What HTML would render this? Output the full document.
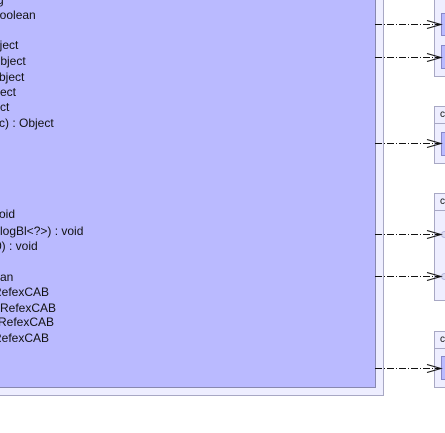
<!DOCTYPE html>
<html><head><style>
body{margin:0;width:445px;height:433px;background:#fff;position:relative;overflow:hidden;font-family:"Liberation Sans",sans-serif;font-size:12px;color:#111}
.a{position:absolute}
.t{position:absolute;white-space:nowrap;line-height:14px}
</style></head><body>
<div class="a" style="left:-5px;top:-5px;width:389px;height:401px;background:#eeeeff;border:1px solid #a8a8c4;box-sizing:border-box"></div>
<div class="a" style="left:-5px;top:-5px;width:381px;height:393px;background:#babaff;border:1px solid #8888b0;box-sizing:border-box"></div>

<div class="t" style="left:-3px;top:-7px">g</div>
<div class="t" style="left:-7px;top:8px">boolean</div>
<div class="t" style="left:-7px;top:38px">bject</div>
<div class="t" style="left:-9px;top:54px">Object</div>
<div class="t" style="left:-1px;top:70px">bject</div>
<div class="t" style="left:0px;top:85px">ect</div>
<div class="t" style="left:0px;top:100px">ct</div>
<div class="t" style="left:-1px;top:116px">c) : Object</div>
<div class="t" style="left:-7px;top:207px">void</div>
<div class="t" style="left:0px;top:224px">logBl&lt;?&gt;) : void</div>
<div class="t" style="left:-5px;top:239px">0) : void</div>
<div class="t" style="left:0px;top:270px">an</div>
<div class="t" style="left:-7px;top:285px">RefexCAB</div>
<div class="t" style="left:0px;top:301px">RefexCAB</div>
<div class="t" style="left:-2px;top:315px">RefexCAB</div>
<div class="t" style="left:-7px;top:331px">RefexCAB</div>

<div class="a" style="left:434px;top:-5px;width:20px;height:82px;background:#eeeeff;border:1px solid #a8a8c4;box-sizing:border-box"></div>
<div class="a" style="left:441px;top:13px;width:10px;height:23px;background:#babaff;border:1px solid #8888c8;box-sizing:border-box"></div>
<div class="a" style="left:441px;top:45px;width:10px;height:24px;background:#babaff;border:1px solid #8888c8;box-sizing:border-box"></div>

<div class="a" style="left:434px;top:106px;width:20px;height:58px;background:#eeeeff;border:1px solid #a8a8c4;box-sizing:border-box"></div>
<div class="a" style="left:434px;top:123px;width:20px;height:1px;background:#a8a8c4"></div>
<div class="t" style="left:440px;top:108px;font-size:10px">c</div>
<div class="a" style="left:441px;top:132px;width:10px;height:24px;background:#babaff;border:1px solid #8888c8;box-sizing:border-box"></div>

<div class="a" style="left:434px;top:193px;width:20px;height:108px;background:#eeeeff;border:1px solid #a8a8c4;box-sizing:border-box"></div>
<div class="a" style="left:434px;top:210px;width:20px;height:1px;background:#a8a8c4"></div>
<div class="t" style="left:440px;top:195px;font-size:10px">c</div>
<div class="a" style="left:441px;top:231px;width:7px;height:7px;border-radius:50%;background:#dcdcf4;border:1px solid #b8b8dc;box-sizing:border-box"></div>
<div class="a" style="left:441px;top:273px;width:7px;height:7px;border-radius:50%;background:#dcdcf4;border:1px solid #b8b8dc;box-sizing:border-box"></div>

<div class="a" style="left:434px;top:331px;width:20px;height:57px;background:#eeeeff;border:1px solid #a8a8c4;box-sizing:border-box"></div>
<div class="a" style="left:434px;top:348px;width:20px;height:1px;background:#a8a8c4"></div>
<div class="t" style="left:440px;top:333px;font-size:10px">c</div>
<div class="a" style="left:441px;top:356px;width:10px;height:24px;background:#babaff;border:1px solid #8888c8;box-sizing:border-box"></div>

<svg class="a" style="left:0;top:0" width="445" height="433">
<g stroke="#111" stroke-width="1" fill="none" stroke-dasharray="7,2,1,2">
<line x1="375" y1="24.5" x2="441" y2="24.5"/>
<line x1="375" y1="57.5" x2="441" y2="57.5"/>
<line x1="375" y1="143.5" x2="441" y2="143.5"/>
<line x1="375" y1="234.5" x2="441" y2="234.5"/>
<line x1="375" y1="276.5" x2="441" y2="276.5"/>
<line x1="375" y1="368.5" x2="441" y2="368.5"/>
</g>
<g stroke="#111" stroke-width="1" fill="none">
<polyline points="427,20.5 441,24.5 427,28.5"/>
<polyline points="427,53.5 441,57.5 427,61.5"/>
<polyline points="427,139.5 441,143.5 427,147.5"/>
<polyline points="427,230.5 441,234.5 427,238.5"/>
<polyline points="427,272.5 441,276.5 427,280.5"/>
<polyline points="427,364.5 441,368.5 427,372.5"/>
</g>
</svg>
</body></html>
